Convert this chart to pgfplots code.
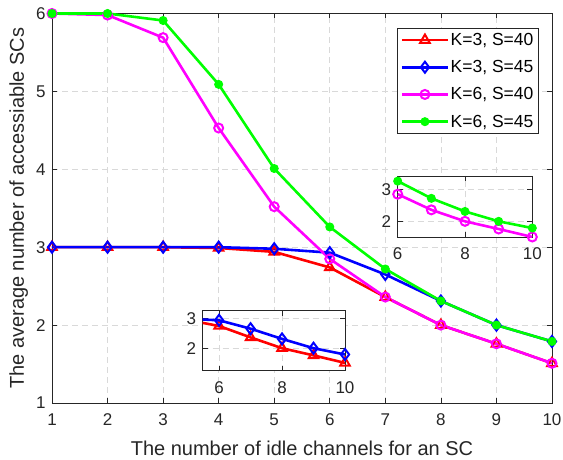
\documentclass[border=0pt]{standalone}
\usepackage{fontspec}
\setmainfont{Liberation Sans}
\usepackage{pgfplots}
\pgfplotsset{compat=1.18}
\definecolor{axgray}{gray}{0.15}
\definecolor{gridgray}{gray}{0.85}
\definecolor{cred}{rgb}{1,0,0}
\definecolor{cblue}{rgb}{0,0,1}
\definecolor{cmag}{rgb}{1,0,1}
\definecolor{cgreen}{rgb}{0,1,0}
\pgfplotsset{
  matstyle/.style={
    scale only axis,
    grid=major,
    major grid style={dash pattern=on 6pt off 4pt, gridgray, line width=0.6pt},
    axis line style={axgray, line width=0.7pt},
    tick style={axgray, line width=0.7pt},
    tick align=inside,
    major tick length=5pt,
    ticklabel style={font=\fontsize{17}{17}\selectfont, text=axgray},
    xticklabel style={yshift=-7pt},
    yticklabel style={xshift=-3pt},
    /pgf/number format/assume math mode=true,
  },
  sred/.style={cred, line width=2.6pt, mark=triangle, mark size=5.5pt, mark options={solid, line width=2pt}},
  sblue/.style={cblue, line width=2.6pt, mark=diamond, mark size=5.5pt, mark options={solid, line width=2pt}},
  smag/.style={cmag, line width=2.6pt, mark=o, mark size=4.5pt, mark options={solid, line width=2pt}},
  sgreen/.style={cgreen, line width=2.6pt, mark=*, mark size=4pt, mark options={solid, line width=1pt}},
}
\begin{document}
\begin{tikzpicture}
\path[use as bounding box] (-52pt,-57pt) rectangle (511pt,403pt);
\begin{axis}[matstyle,
  name=main, at={(0pt,0pt)}, anchor=south west,
  width=500pt, height=389.5pt,
  xmin=1, xmax=10, ymin=1, ymax=6,
  xtick={1,2,3,4,5,6,7,8,9,10}, ytick={1,2,3,4,5,6},
  clip=false,
  xlabel={The number of idle channels for an SC},
  ylabel={The average number of accessiable SCs},
  label style={font=\fontsize{20}{20}\selectfont, text=axgray},
  xlabel style={yshift=-9pt},
  ylabel style={yshift=1pt},
  legend style={at={(0.9726,0.962)}, anchor=north east, draw=axgray, line width=0.7pt,
    font=\fontsize{17.5}{17.5}\selectfont, inner sep=3pt, row sep=10.5pt,
    nodes={inner sep=1.5pt}},
  legend cell align=left,
  legend image code/.code={\draw[mark repeat=2,mark phase=2] plot coordinates {(0pt,0pt) (23pt,0pt) (46pt,0pt)};},
]
\addplot[sred] coordinates {(1,3) (2,3) (3,3) (4,2.99) (5,2.94) (6,2.74) (7,2.36) (8,2.0) (9,1.76) (10,1.51)};
\addlegendentry{K=3, S=40}
\addplot[sblue] coordinates {(1,3) (2,3) (3,3) (4,3.0) (5,2.98) (6,2.93) (7,2.65) (8,2.31) (9,2.0) (10,1.79)};
\addlegendentry{K=3, S=45}
\addplot[smag] coordinates {(1,6) (2,5.98) (3,5.69) (4,4.53) (5,3.52) (6,2.85) (7,2.36) (8,2.0) (9,1.76) (10,1.51)};
\addlegendentry{K=6, S=40}
\addplot[sgreen] coordinates {(1,6) (2,6) (3,5.91) (4,5.09) (5,4.01) (6,3.26) (7,2.72) (8,2.31) (9,2.0) (10,1.79)};
\addlegendentry{K=6, S=45}
\end{axis}
% inset upper right
\begin{axis}[matstyle,
  at={(345.7pt,165.7pt)}, anchor=south west,
  width=134.6pt, height=61.3pt,
  xmin=6, xmax=10, ymin=1.5, ymax=3.42,
  xtick={6,8,10}, ytick={2,3},
  axis background/.style={fill=white},
  clip mode=individual,
]
\addplot[smag] coordinates {(6,2.85) (7,2.36) (8,2.0) (9,1.76) (10,1.51)};
\addplot[sgreen] coordinates {(6,3.26) (7,2.72) (8,2.31) (9,2.0) (10,1.79)};
\end{axis}
% inset lower
\begin{axis}[matstyle,
  at={(150.7pt,32.3pt)}, anchor=south west,
  width=142.3pt, height=60pt,
  xmin=5.48, xmax=10, ymin=1.25, ymax=3.25,
  xtick={6,8,10}, ytick={2,3},
  axis background/.style={fill=white},
  clip mode=individual,
]
\addplot[sred, no markers] coordinates {(5,2.94) (6,2.74) (7,2.36) (8,2.0) (9,1.76) (10,1.51)};
\addplot[sred, only marks] coordinates {(6,2.74) (7,2.36) (8,2.0) (9,1.76) (10,1.51)};
\addplot[sblue, no markers] coordinates {(5,2.98) (6,2.93) (7,2.65) (8,2.31) (9,2.0) (10,1.79)};
\addplot[sblue, only marks] coordinates {(6,2.93) (7,2.65) (8,2.31) (9,2.0) (10,1.79)};
\end{axis}
\end{tikzpicture}
\end{document}
